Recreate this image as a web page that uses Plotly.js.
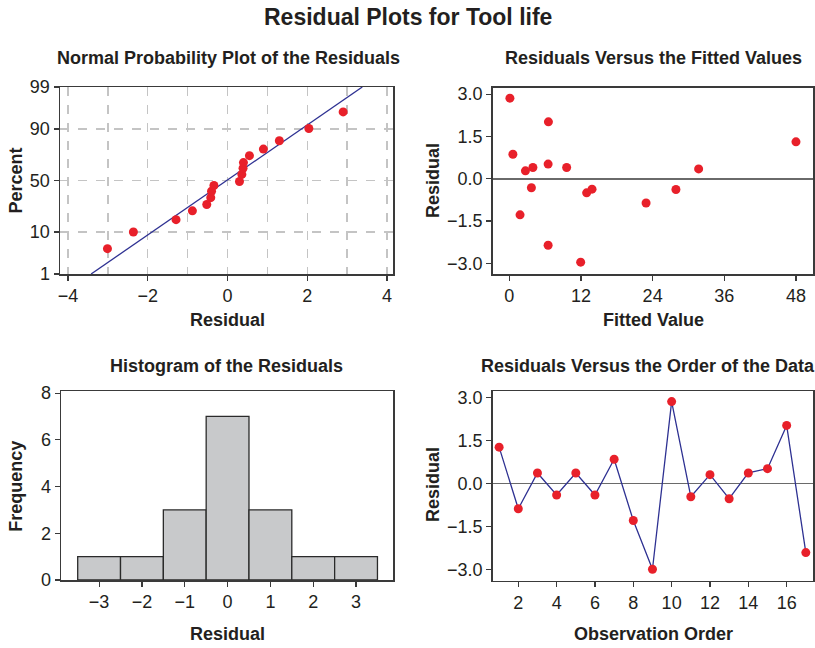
<!DOCTYPE html>
<html>
<head>
<meta charset="utf-8">
<script src="https://cdn.plot.ly/plotly-3.0.1.min.js"></script>
<style>html,body{margin:0;padding:0;background:#fff;}#chart{width:815px;height:648px;}</style>
</head>
<body>
<div id="chart"></div>
<script>
// ---------- data ----------
// Normal probability plot: residual (sorted) and plotted percent
var probResid = [-3.01, -2.36, -1.29, -0.88, -0.52, -0.42, -0.40, -0.34, 0.30, 0.36, 0.39, 0.40, 0.55, 0.90, 1.30, 2.04, 2.90];
var probPct   = [4.5, 10.0, 16.5, 22.5, 27.5, 33.5, 39.5, 45.0, 49.0, 56.0, 62.0, 67.2, 73.2, 78.3, 83.9, 90.2, 95.6];
// fitted normal line end points
var fitLineResid = [-3.42, 3.38];
var fitLinePct   = [1, 99];
var pctTicks = [1, 10, 50, 90, 99];

// Residuals versus fitted values
var fittedVals  = [0.1, 0.6, 1.8, 2.7, 3.95, 3.7, 6.55, 6.5, 6.5, 9.6, 11.95, 12.95, 13.85, 22.9, 27.9, 31.7, 48.0];
var fittedResid = [2.86, 0.87, -1.28, 0.28, 0.40, -0.32, 2.02, 0.52, -2.36, 0.40, -2.96, -0.50, -0.37, -0.86, -0.38, 0.35, 1.31];

// Residuals in observation order (also used for the histogram)
var obsOrder   = [1, 2, 3, 4, 5, 6, 7, 8, 9, 10, 11, 12, 13, 14, 15, 16, 17];
var orderResid = [1.26, -0.89, 0.36, -0.41, 0.36, -0.41, 0.84, -1.30, -3.00, 2.85, -0.47, 0.30, -0.54, 0.36, 0.51, 2.02, -2.42];

var mainTitle = 'Residual Plots for Tool life';
var panelTitles = ['Normal Probability Plot of the Residuals', 'Residuals Versus the Fitted Values',
                   'Histogram of the Residuals', 'Residuals Versus the Order of the Data'];

// ---------- helpers ----------
function probit(p) {
  // Acklam inverse normal CDF
  var a = [-3.969683028665376e+01, 2.209460984245205e+02, -2.759285104469687e+02, 1.383577518672690e+02, -3.066479806614716e+01, 2.506628277459239e+00];
  var b = [-5.447609879822406e+01, 1.615858368580409e+02, -1.556989798598866e+02, 6.680131188771972e+01, -1.328068155288572e+01];
  var c = [-7.784894002430293e-03, -3.223964580411365e-01, -2.400758277161838e+00, -2.549732539343734e+00, 4.374664141464968e+00, 2.938163982698783e+00];
  var d = [7.784695709041462e-03, 3.224671290700398e-01, 2.445134137142996e+00, 3.754408661907416e+00];
  var pl = 0.02425, ph = 1 - pl, q, r;
  if (p < pl) { q = Math.sqrt(-2 * Math.log(p)); return (((((c[0]*q+c[1])*q+c[2])*q+c[3])*q+c[4])*q+c[5]) / ((((d[0]*q+d[1])*q+d[2])*q+d[3])*q+1); }
  if (p > ph) { q = Math.sqrt(-2 * Math.log(1 - p)); return -(((((c[0]*q+c[1])*q+c[2])*q+c[3])*q+c[4])*q+c[5]) / ((((d[0]*q+d[1])*q+d[2])*q+d[3])*q+1); }
  q = p - 0.5; r = q * q;
  return (((((a[0]*r+a[1])*r+a[2])*r+a[3])*r+a[4])*r+a[5])*q / (((((b[0]*r+b[1])*r+b[2])*r+b[3])*r+b[4])*r+1);
}
function z(pcts) { return pcts.map(function (v) { return probit(v / 100); }); }

var W = 815, H = 648;
function dx(a, b) { return [a / W, b / W]; }
function dy(top, bottom) { return [1 - bottom / H, 1 - top / H]; }

var FONT = 'Liberation Sans, Arial, Helvetica, sans-serif';
var TXT = '#231f20';
var RED = '#e8202a';
var NAVY = '#2e3192';
var LINE = '#3a3a3a';

function axisBase(extra) {
  var o = {
    showline: true, mirror: true, linecolor: LINE, linewidth: 1.5,
    ticks: 'outside', ticklen: 5, tickwidth: 1.2, tickcolor: LINE,
    tickfont: {family: FONT, size: 18, color: TXT},
    showgrid: false, zeroline: false, fixedrange: true
  };
  for (var k in extra) o[k] = extra[k];
  return o;
}

// ---------- traces ----------
var traces = [
  {type: 'scatter', mode: 'lines', x: fitLineResid, y: z(fitLinePct), xaxis: 'x', yaxis: 'y',
   line: {color: NAVY, width: 1.3}, hoverinfo: 'skip', cliponaxis: true},
  {type: 'scatter', mode: 'markers', x: probResid, y: z(probPct), xaxis: 'x', yaxis: 'y',
   marker: {color: RED, size: 9}, cliponaxis: false},
  {type: 'scatter', mode: 'markers', x: fittedVals, y: fittedResid, xaxis: 'x2', yaxis: 'y2',
   marker: {color: RED, size: 9}, cliponaxis: false},
  {type: 'histogram', x: orderResid, xaxis: 'x3', yaxis: 'y3',
   xbins: {start: -3.5, end: 3.5, size: 1}, autobinx: false,
   marker: {color: '#c8c9cb', line: {color: '#2a2a2a', width: 1.3}}},
  {type: 'scatter', mode: 'lines+markers', x: obsOrder, y: orderResid, xaxis: 'x4', yaxis: 'y4',
   line: {color: NAVY, width: 1.3}, marker: {color: RED, size: 9}, cliponaxis: false}
];

var layout = {
  width: W, height: H, margin: {l: 0, r: 0, t: 0, b: 0},
  paper_bgcolor: '#ffffff', plot_bgcolor: '#ffffff', showlegend: false,
  bargap: 0,
  xaxis: axisBase({domain: dx(60, 393), anchor: 'y', range: [-4.2, 4.15], tickmode: 'linear', tick0: 0, dtick: 2,
    showgrid: true, gridcolor: '#c4c4c4', gridwidth: 1.5, griddash: 'dash',
    minor: {tickmode: 'linear', tick0: 0, dtick: 1, showgrid: true, gridcolor: '#c4c4c4', gridwidth: 1.5, griddash: 'dash', ticks: ''}}),
  yaxis: axisBase({domain: dy(87, 274), anchor: 'x', range: [probit(0.01), probit(0.99)],
    tickmode: 'array', tickvals: z(pctTicks), ticktext: pctTicks.map(String),
    showgrid: true, gridcolor: '#c4c4c4', gridwidth: 1.5, griddash: 'dash'}),
  xaxis2: axisBase({domain: dx(492.7, 813.3), anchor: 'y2', range: [-2.78, 50.9], tickmode: 'linear', tick0: 0, dtick: 12}),
  yaxis2: axisBase({domain: dy(87.7, 274.3), anchor: 'x2', range: [-3.39, 3.23], tickmode: 'linear', tick0: 0, dtick: 1.5,
    tickformat: '.1f', zeroline: true, zerolinecolor: '#6a6a6a', zerolinewidth: 1.5}),
  xaxis3: axisBase({domain: dx(61, 393.3), anchor: 'y3', range: [-3.89, 3.87], tickmode: 'linear', tick0: 0, dtick: 1}),
  yaxis3: axisBase({domain: dy(391, 580), anchor: 'x3', range: [0, 8.09], tickmode: 'linear', tick0: 0, dtick: 2}),
  xaxis4: axisBase({domain: dx(492.7, 813.3), anchor: 'y4', range: [0.665, 17.39], tickmode: 'linear', tick0: 0, dtick: 2}),
  yaxis4: axisBase({domain: dy(391, 580.7), anchor: 'x4', range: [-3.40, 3.22], tickmode: 'linear', tick0: 0, dtick: 1.5,
    tickformat: '.1f', zeroline: true, zerolinecolor: '#6a6a6a', zerolinewidth: 1.5}),
  annotations: []
};

function ann(text, x, y, size, angle) {
  layout.annotations.push({text: text, x: x / W, y: 1 - y / H, xref: 'paper', yref: 'paper',
    xanchor: 'center', yanchor: 'middle', showarrow: false, textangle: angle || 0,
    font: {family: FONT, size: size, color: TXT, weight: 'bold'}});
}
ann(mainTitle, 408, 17, 23);
ann(panelTitles[0], 228, 57.5, 18);
ann(panelTitles[1], 653, 57.5, 18);
ann(panelTitles[2], 226, 365.5, 18);
ann(panelTitles[3], 647.5, 365.5, 18);
// axis titles
ann('Residual', 227.5, 319.5, 18);
ann('Percent', 15.5, 181, 18, -90);
ann('Fitted Value', 653.3, 320, 18);
ann('Residual', 433, 181, 18, -90);
ann('Frequency', 15.7, 486, 18, -90);
ann('Residual', 227, 634, 18);
ann('Observation Order', 653.3, 634, 18);
ann('Residual', 433, 485, 18, -90);

Plotly.newPlot('chart', traces, layout, {staticPlot: true, displayModeBar: false});
</script>
</body>
</html>
